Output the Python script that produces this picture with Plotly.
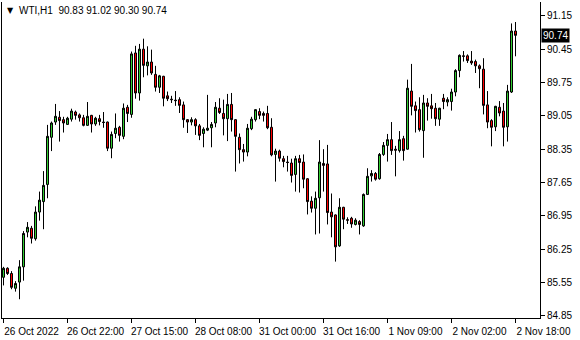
import plotly.graph_objects as go

symbol = "WTI,H1"

opens = [85.66, 85.85, 85.74, 85.43, 85.56, 85.88, 86.61, 86.69, 86.47, 87.03,
         87.25, 87.61, 88.60, 88.92, 89.02, 88.97, 88.87, 88.98, 89.13, 89.07,
         89.01, 88.85, 89.06, 88.88, 88.99, 88.92, 88.92, 88.37, 88.68, 88.81,
         88.62, 89.23, 89.08, 90.37, 89.53, 90.45, 90.10, 90.18, 89.92, 89.65,
         89.88, 89.47, 89.40, 89.38, 89.39, 89.28, 88.97, 88.92, 88.97, 88.84,
         88.68, 88.75, 88.80, 88.90, 89.21, 89.10, 88.99, 89.29, 88.97, 88.60,
         88.34, 88.29, 88.78, 88.97, 89.14, 89.10, 89.10, 88.81, 88.24, 88.31,
         88.15, 88.08, 88.06, 87.82, 88.15, 88.08, 87.73, 87.26, 87.11, 87.33,
         88.05, 88.04, 87.03, 86.97, 86.32, 87.13, 86.87, 86.90, 86.77, 86.83,
         86.74, 87.40, 87.79, 87.84, 87.73, 88.24, 88.43, 88.55, 88.35, 88.32,
         88.57, 88.35, 89.57, 89.26, 89.18, 88.74, 89.32, 89.26, 89.21, 88.98,
         89.42, 89.34, 89.35, 89.55, 90.00, 90.31, 90.31, 90.20, 90.19, 90.10,
         90.03, 89.28, 88.95, 88.82, 89.23, 89.15, 88.82, 89.55, 90.83]

highs = [85.88, 85.87, 85.79, 85.58, 86.02, 86.63, 86.82, 86.74, 87.15, 87.46,
         87.89, 88.86, 88.93, 89.30, 89.15, 89.03, 89.03, 89.20, 89.16, 89.10,
         89.07, 89.34, 89.07, 89.03, 89.07, 89.13, 88.93, 88.72, 89.10, 88.84,
         89.31, 89.28, 90.40, 90.52, 90.56, 90.67, 90.51, 90.44, 90.10, 89.91,
         89.89, 89.56, 89.47, 89.57, 89.44, 89.35, 88.98, 89.02, 89.00, 88.88,
         88.81, 89.49, 88.92, 89.34, 89.42, 89.39, 89.51, 89.53, 88.98, 88.68,
         88.46, 88.88, 89.03, 89.19, 89.21, 89.14, 89.26, 89.00, 88.36, 88.34,
         88.21, 88.21, 88.15, 88.21, 88.23, 88.24, 87.74, 87.36, 87.46, 88.54,
         88.35, 88.44, 87.42, 86.98, 87.32, 87.14, 86.92, 86.93, 86.90, 86.86,
         87.42, 87.95, 87.91, 87.87, 88.27, 88.50, 88.67, 88.92, 88.42, 88.73,
         88.63, 89.81, 90.14, 89.35, 89.44, 89.49, 89.42, 89.51, 89.32, 89.22,
         89.51, 89.44, 89.62, 90.03, 90.34, 90.41, 90.34, 90.41, 90.23, 90.13,
         90.26, 89.57, 88.98, 89.26, 89.36, 89.32, 89.70, 90.99, 91.02]

lows = [85.49, 85.71, 85.41, 85.36, 85.20, 85.59, 86.50, 86.37, 86.43, 86.85,
        86.67, 87.32, 88.31, 88.86, 88.51, 88.70, 88.86, 88.93, 88.97, 88.93,
        88.83, 88.84, 88.70, 88.84, 88.85, 88.80, 88.31, 88.16, 88.58, 88.51,
        88.56, 88.92, 89.01, 89.41, 89.37, 89.86, 89.90, 89.91, 89.56, 89.53,
        89.25, 89.36, 89.32, 89.26, 89.11, 88.80, 88.69, 88.85, 88.65, 88.54,
        88.39, 88.73, 88.39, 88.81, 89.09, 88.64, 88.52, 88.72, 87.88, 88.05,
        88.09, 88.20, 88.75, 88.93, 88.98, 88.93, 88.77, 88.20, 87.67, 88.09,
        87.97, 87.88, 87.65, 87.46, 87.44, 87.53, 86.98, 87.02, 86.56, 86.58,
        87.46, 86.77, 86.50, 85.99, 86.30, 86.67, 86.78, 86.70, 86.75, 86.56,
        86.72, 87.39, 87.67, 87.69, 87.71, 88.21, 88.09, 88.23, 87.78, 88.28,
        88.11, 88.34, 89.06, 88.70, 88.72, 88.17, 88.95, 88.99, 88.84, 88.84,
        89.19, 89.25, 89.16, 89.46, 89.86, 90.19, 90.16, 90.12, 89.95, 89.63,
        89.08, 88.79, 88.41, 88.73, 89.04, 88.41, 88.51, 89.53, 90.30]

closes = [85.85, 85.74, 85.45, 85.53, 85.88, 86.58, 86.71, 86.48, 87.03, 87.28,
          87.59, 88.62, 88.90, 89.04, 88.95, 88.90, 89.00, 89.15, 89.06, 89.01,
          88.85, 89.04, 88.88, 89.00, 88.93, 88.91, 88.37, 88.66, 88.79, 88.64,
          89.21, 89.10, 90.35, 89.53, 90.45, 90.11, 90.18, 89.95, 89.65, 89.89,
          89.42, 89.41, 89.39, 89.37, 89.27, 88.97, 88.92, 88.97, 88.84, 88.64,
          88.77, 88.79, 88.87, 89.23, 89.12, 88.99, 89.29, 88.97, 88.62, 88.34,
          88.29, 88.79, 88.98, 89.18, 89.06, 89.06, 88.80, 88.23, 88.31, 88.16,
          88.09, 88.07, 87.80, 88.15, 88.07, 87.72, 87.25, 87.11, 87.32, 88.08,
          88.01, 87.02, 86.93, 86.30, 87.13, 86.88, 86.86, 86.78, 86.86, 86.77,
          87.40, 87.78, 87.84, 87.72, 88.24, 88.43, 88.55, 88.32, 88.33, 88.55,
          88.32, 89.63, 89.25, 89.16, 88.76, 89.32, 89.25, 89.20, 88.99, 89.21,
          89.35, 89.39, 89.55, 90.00, 90.32, 90.30, 90.21, 90.16, 90.10, 90.04,
          89.27, 88.92, 88.81, 89.25, 89.11, 88.81, 89.57, 90.83, 90.74]

time_tick_bars = [0, 16, 32, 48, 64, 80, 96, 112, 128]
time_tick_labels = ["26 Oct 2022", "26 Oct 22:00", "27 Oct 15:00", "28 Oct 08:00",
                    "31 Oct 00:00", "31 Oct 16:00", "1 Nov 09:00", "2 Nov 02:00",
                    "2 Nov 18:00"]
price_ticks = [84.85, 85.55, 86.25, 86.95, 87.65, 88.35, 89.05, 89.75, 90.45, 91.15]

bars = list(range(len(opens)))

W, H = 580, 340
ML, MR, MT, MB = 2, 40, 2, 22
FONT = "Liberation Sans"

fig = go.Figure()
fig.add_trace(go.Candlestick(
    x=bars, open=opens, high=highs, low=lows, close=closes,
    increasing=dict(line=dict(color="black", width=1), fillcolor="#32CD32"),
    decreasing=dict(line=dict(color="black", width=1), fillcolor="#FF0000"),
    whiskerwidth=0, hoverinfo="skip", showlegend=False,
))

last_o, last_h, last_l, last_c = opens[-1], highs[-1], lows[-1], closes[-1]

pw = W - ML - MR
ph = H - MT - MB

def px_x(px):
    return (px - ML) / pw

def px_y(py):
    return 1 - (py - MT) / ph

annotations = [
    dict(text="▼", xref="paper", yref="paper", x=px_x(5), y=px_y(10),
         xanchor="left", yanchor="middle", showarrow=False,
         font=dict(family="DejaVu Sans", size=8, color="black")),
    dict(text=f"{symbol}  {last_o:.2f} {last_h:.2f} {last_l:.2f} {last_c:.2f}",
         xref="paper", yref="paper", x=px_x(17), y=px_y(10),
         xanchor="left", yanchor="middle", showarrow=False,
         font=dict(family=FONT, size=10, color="black")),
    dict(text=f"{last_c:.2f}", xref="paper", yref="y", x=px_x(541), y=last_c,
         xanchor="left", yanchor="middle", showarrow=False,
         bgcolor="black", borderpad=1,
         font=dict(family=FONT, size=10, color="white")),
]

fig.update_layout(
    width=W, height=H,
    margin=dict(l=ML, r=MR, t=MT, b=MB),
    paper_bgcolor="white", plot_bgcolor="white",
    boxgap=0.5, boxgroupgap=0,
    font=dict(family=FONT, size=10, color="black"),
    annotations=annotations,
    xaxis=dict(
        range=[-0.375, 134.125], rangeslider=dict(visible=False),
        showgrid=False, zeroline=False, showline=True, linecolor="black", linewidth=1,
        ticks="outside", ticklen=4, tickcolor="black",
        tickvals=time_tick_bars, ticktext=time_tick_labels,
        ticklabelshift=28, ticklabelstandoff=0,
        tickfont=dict(family=FONT, size=10, color="black"),
    ),
    yaxis=dict(
        side="right", range=[84.806, 91.44],
        showgrid=False, zeroline=False, showline=True, mirror=True,
        linecolor="black", linewidth=1,
        ticks="outside", ticklen=4, tickcolor="black",
        tickvals=price_ticks, ticktext=[f"{v:.2f}" for v in price_ticks],
        tickfont=dict(family=FONT, size=10, color="black"),
    ),
)

fig.write_html("out.html")
